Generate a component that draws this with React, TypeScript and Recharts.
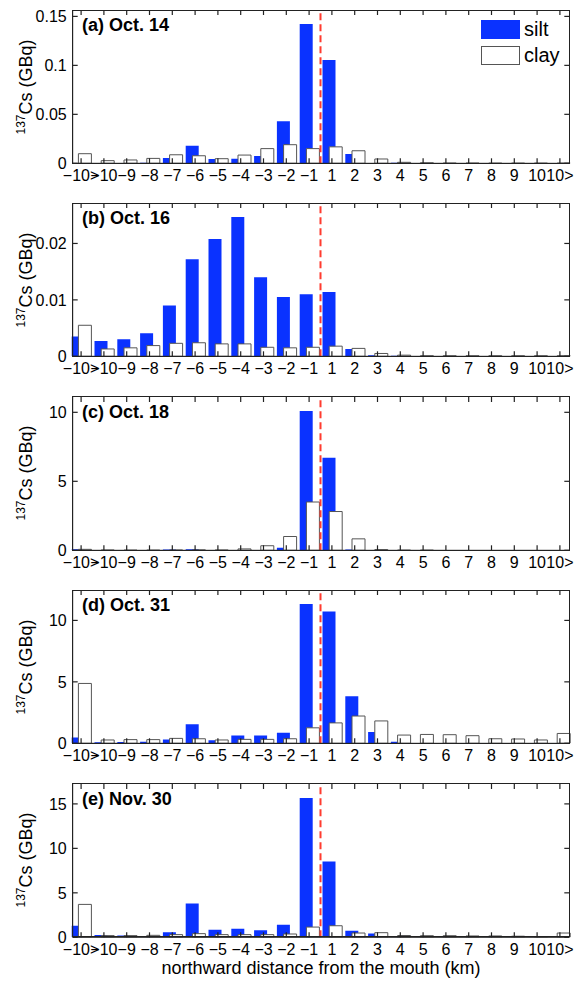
import React from "react";
import { BarChart, Bar, XAxis, YAxis, ReferenceLine, Legend } from "recharts";

// distance classes along the coast (km), south -> north of the river mouth
const categories = ["−10>", "−10", "−9", "−8", "−7", "−6", "−5", "−4", "−3", "−2", "−1", "1", "2", "3", "4", "5", "6", "7", "8", "9", "10", "10>"];

const siltOct14 = [0, 0.0003, 0.0003, 0.0006, 0.0054, 0.018, 0.0044, 0.0047, 0.0074, 0.043, 0.1423, 0.1054, 0.0094, 0.0003, 0.0005, 0.0002, 0.0001, 0.0001, 0.0001, 0, 0, 0];
const clayOct14 = [0.0098, 0.0027, 0.0034, 0.005, 0.0087, 0.0077, 0.0047, 0.0084, 0.015, 0.019, 0.015, 0.0168, 0.0128, 0.0044, 0.001, 0.0005, 0.0002, 0.0002, 0.0001, 0.0001, 0.0001, 0.0001];

const siltOct16 = [0.0035, 0.0027, 0.003, 0.0041, 0.009, 0.0172, 0.0208, 0.0247, 0.014, 0.0105, 0.011, 0.0114, 0.0013, 0.0002, 0.0001, 0, 0, 0, 0, 0, 0, 0];
const clayOct16 = [0.0055, 0.0013, 0.0015, 0.0019, 0.0023, 0.0024, 0.0022, 0.0022, 0.0016, 0.0015, 0.0016, 0.0018, 0.0014, 0.0005, 0.0002, 0.0001, 0.0001, 0.0001, 0.0001, 0.0001, 0.0001, 0.0001];

const siltOct18 = [0.08, 0.03, 0.02, 0.02, 0.05, 0.08, 0.02, 0.03, 0.02, 0.19, 10.1, 6.71, 0.05, 0.01, 0, 0, 0, 0, 0, 0, 0, 0];
const clayOct18 = [0.07, 0.02, 0.01, 0.01, 0.02, 0.03, 0.02, 0.1, 0.33, 1.0, 3.5, 2.81, 0.83, 0.05, 0.01, 0.01, 0, 0, 0, 0, 0, 0];

const siltOct31 = [0.48, 0.08, 0.1, 0.12, 0.3, 1.55, 0.24, 0.64, 0.64, 0.85, 11.34, 10.72, 3.82, 0.91, 0.12, 0.03, 0, 0, 0, 0, 0, 0];
const clayOct31 = [4.87, 0.27, 0.3, 0.3, 0.4, 0.37, 0.27, 0.32, 0.32, 0.37, 1.26, 1.66, 2.22, 1.82, 0.67, 0.72, 0.7, 0.62, 0.37, 0.35, 0.27, 0.8];

const siltNov30 = [1.3, 0.26, 0.19, 0.15, 0.56, 3.81, 0.85, 0.96, 0.78, 1.4, 15.67, 8.52, 0.74, 0.44, 0.07, 0.04, 0.03, 0.02, 0.02, 0.02, 0.05, 0];
const clayNov30 = [3.7, 0.19, 0.19, 0.22, 0.3, 0.41, 0.3, 0.3, 0.3, 0.37, 1.15, 1.3, 0.48, 0.52, 0.2, 0.18, 0.18, 0.15, 0.15, 0.12, 0.06, 0.48];

const panelTitles = ["(a) Oct. 14", "(b) Oct. 16", "(c) Oct. 18", "(d) Oct. 31", "(e) Nov. 30"];
const yTicks = [
  [0, 0.05, 0.1, 0.15],
  [0, 0.01, 0.02],
  [0, 5, 10],
  [0, 5, 10],
  [0, 5, 10, 15],
];

const panels = [
  { silt: siltOct14, clay: clayOct14 },
  { silt: siltOct16, clay: clayOct16 },
  { silt: siltOct18, clay: clayOct18 },
  { silt: siltOct31, clay: clayOct31 },
  { silt: siltNov30, clay: clayNov30 },
];

const SILT = "#0a32ff";
const FONT = "'Liberation Sans', Arial, Helvetica, sans-serif";
const AXIS = "#222";

const W = 574;
const CH = 193;
const STEP = 193.4;
const M = { top: 10, right: 4.7, bottom: 4.7, left: 12.7 };
const X_AXIS_H = 25;
const Y_AXIS_W = 60;
const PLOT_TOP = M.top;
const PLOT_BOTTOM = CH - M.bottom - X_AXIS_H;
const PLOT_H = PLOT_BOTTOM - PLOT_TOP;
const PLOT_LEFT = M.left + Y_AXIS_W;
const PLOT_RIGHT = W - M.right;
const PAD_L = 3;
const PAD_R = 2;
const TICK = 5;

// hidden numeric x axis in "class index" units lined up with the category
// bands; carries the tick marks and the river-mouth line
const bandW = (PLOT_RIGHT - PLOT_LEFT + PAD_L + PAD_R) / categories.length;
const xLo = -0.5 + PAD_L / bandW;
const xHi = categories.length - 0.5 - PAD_R / bandW;
const indexTicks = categories.map((_, i) => i);

// river mouth sits between the "−1" and "1" classes
const mouthX = categories.indexOf("1") - 0.5;

const legendItems = [
  { name: "silt", fill: SILT, stroke: SILT },
  { name: "clay", fill: "#fff", stroke: "#555" },
];

function LegendBox() {
  return (
    <div style={{ fontFamily: FONT, fontSize: 20, lineHeight: "20px" }}>
      {legendItems.map((it, i) => (
        <div key={it.name} style={{ display: "flex", alignItems: "center", marginBottom: i === 0 ? 6 : 0 }}>
          <div
            style={{
              width: 37,
              height: 17,
              background: it.fill,
              border: `1px solid ${it.stroke}`,
              marginRight: 4,
            }}
          />
          <span>{it.name}</span>
        </div>
      ))}
    </div>
  );
}

function Panel({ k }: { k: number }) {
  const { silt, clay } = panels[k];
  const rows = categories.map((cat, i) => ({ cat, silt: silt[i], clay: clay[i], idx: i }));
  const yMax = Math.max(...silt, ...clay) * 1.1;
  const tickY = (yMax * TICK) / PLOT_H;
  const tickX = TICK / bandW;
  const top = k * STEP;
  const midY = top + (PLOT_TOP + PLOT_BOTTOM) / 2;

  return (
    <>
      <div style={{ position: "absolute", left: 0, top }}>
        <BarChart
          width={W}
          height={CH}
          data={rows}
          margin={M}
          barSize={13}
          barGap={-6.3}
          barCategoryGap={0}
        >
          <XAxis
            dataKey="cat"
            interval={0}
            padding={{ left: -PAD_L, right: -PAD_R }}
            height={X_AXIS_H}
            tickSize={-TICK}
            tickMargin={11}
            tick={{ fill: "#000", fontSize: 16, fontFamily: FONT }}
            axisLine={{ stroke: AXIS }}
            tickLine={false}
          />
          <XAxis
            xAxisId="idx"
            dataKey="idx"
            type="number"
            domain={[xLo, xHi]}
            allowDataOverflow
            hide
          />
          <YAxis
            type="number"
            domain={[0, yMax]}
            allowDataOverflow
            ticks={yTicks[k]}
            interval={0}
            width={Y_AXIS_W}
            tickSize={-TICK}
            tickMargin={11}
            tick={{ fill: "#000", fontSize: 16, fontFamily: FONT }}
            axisLine={{ stroke: AXIS }}
            tickLine={false}
          />
          <Bar dataKey="silt" fill={SILT} isAnimationActive={false} />
          <Bar dataKey="clay" fill="#fff" stroke="#555" strokeWidth={1} isAnimationActive={false} />

          {/* inward tick marks, bottom and top */}
          {indexTicks.map((i) => (
            <ReferenceLine
              key={`b${i}`}
              xAxisId="idx"
              segment={[{ x: i, y: 0 }, { x: i, y: tickY }]}
              stroke={AXIS}
              strokeWidth={1.2}
            />
          ))}
          {indexTicks.map((i) => (
            <ReferenceLine
              key={`t${i}`}
              xAxisId="idx"
              segment={[{ x: i, y: yMax }, { x: i, y: yMax - tickY }]}
              stroke={AXIS}
              strokeWidth={1.2}
            />
          ))}
          {/* inward tick marks, left and right */}
          {yTicks[k].map((t) => (
            <ReferenceLine
              key={`l${t}`}
              xAxisId="idx"
              segment={[{ x: xLo, y: t }, { x: xLo + tickX, y: t }]}
              stroke={AXIS}
              strokeWidth={1.2}
            />
          ))}
          {yTicks[k].map((t) => (
            <ReferenceLine
              key={`r${t}`}
              xAxisId="idx"
              segment={[{ x: xHi, y: t }, { x: xHi - tickX, y: t }]}
              stroke={AXIS}
              strokeWidth={1.2}
            />
          ))}

          <ReferenceLine
            xAxisId="idx"
            x={mouthX}
            stroke="#ff3b2f"
            strokeWidth={2}
            strokeDasharray="7 4"
          />
          {k === 0 && (
            <Legend
              layout="horizontal"
              verticalAlign="middle"
              align="center"
              content={() => <LegendBox />}
              wrapperStyle={{ top: 19, left: 481, width: "auto" }}
            />
          )}
        </BarChart>
      </div>
      {/* axes box frame */}
      <div
        style={{
          position: "absolute",
          left: PLOT_LEFT - 0.5,
          top: top + PLOT_TOP - 0.5,
          width: PLOT_RIGHT - PLOT_LEFT - 1,
          height: PLOT_H - 1,
          border: `1px solid ${AXIS}`,
          pointerEvents: "none",
        }}
      />
      <div
        style={{
          position: "absolute",
          left: 82,
          top: top + PLOT_TOP + 6,
          fontFamily: FONT,
          fontWeight: "bold",
          fontSize: 18,
          lineHeight: "18px",
          whiteSpace: "nowrap",
        }}
      >
        {panelTitles[k]}
      </div>
      <div
        style={{
          position: "absolute",
          left: 23,
          top: midY,
          transform: "translate(-50%, -50%) rotate(-90deg)",
          fontFamily: FONT,
          fontSize: 18,
          lineHeight: "18px",
          whiteSpace: "nowrap",
        }}
      >
        <sup style={{ fontSize: 12 }}>137</sup>Cs (GBq)
      </div>
    </>
  );
}

export default function App() {
  return (
    <div style={{ position: "relative", width: W, height: 983, background: "#fff", overflow: "hidden" }}>
      <style>{"body{margin:0}"}</style>
      {panels.map((_, k) => (
        <Panel key={k} k={k} />
      ))}
      <div
        style={{
          position: "absolute",
          left: 321,
          top: 968,
          transform: "translate(-50%, -50%)",
          fontFamily: FONT,
          fontSize: 18,
          whiteSpace: "nowrap",
        }}
      >
        northward distance from the mouth (km)
      </div>
    </div>
  );
}
